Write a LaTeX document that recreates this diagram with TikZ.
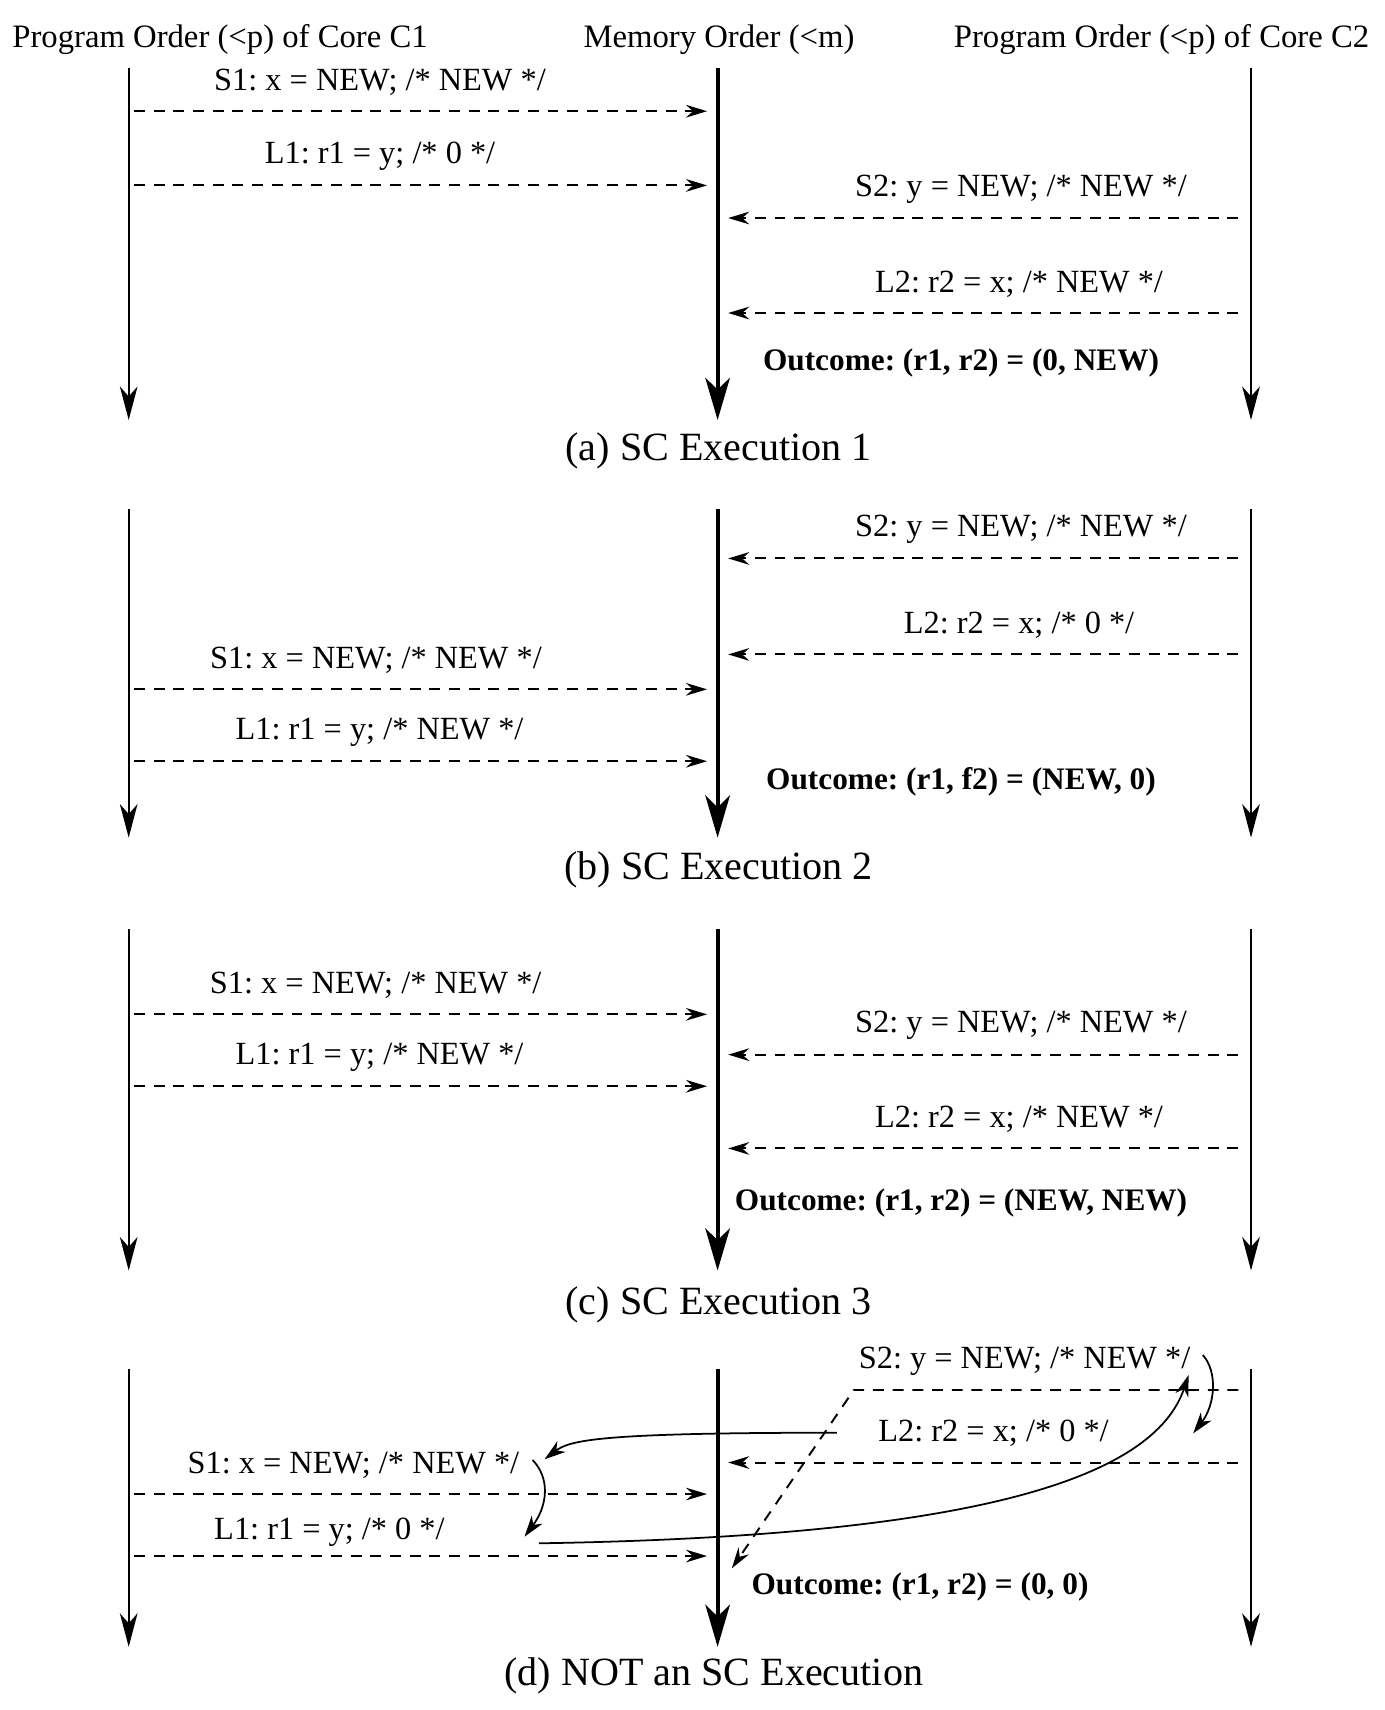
\documentclass[tikz,border=0pt]{standalone}
\usepackage{fontspec}
\setmainfont{Liberation Serif}
\usetikzlibrary{arrows.meta}
\frenchspacing

\tikzset{
  lifeline/.style={line width=0.65pt,-{Stealth[length=9.5pt,width=5pt,inset=2.8pt]}},
  memline/.style={line width=1.2pt,-{Stealth[length=12pt,width=7pt,inset=3.4pt]}},
  msg/.style={line width=0.55pt,dash pattern=on 3.1pt off 2.5pt,-{Stealth[length=6pt,width=3.6pt,inset=2pt]}},
  c1msg/.style={msg,shorten <=1.5pt,shorten >=3pt},
  c2msg/.style={msg,shorten <=3.6pt,shorten >=3pt},
  swap/.style={line width=0.5pt,-{Stealth[length=6pt,width=3.8pt,inset=1.8pt]}},
  op/.style={inner sep=0pt,yshift=-1pt,font=\fontsize{9.2}{11}\selectfont},
  outcome/.style={inner sep=0pt,yshift=-0.8pt,font=\fontsize{8.9}{11}\selectfont\bfseries},
  caption/.style={inner sep=0pt,yshift=-1.2pt,font=\fontsize{11.4}{14}\selectfont},
  header/.style={inner sep=0pt,yshift=-1pt,font=\fontsize{9.3}{11}\selectfont}
}

\begin{document}
\begin{tikzpicture}[x=0.01cm,y=-0.01cm]
\useasboundingbox (0,0) rectangle (1384,1710);

\coordinate (c1) at (128.7,0);
\coordinate (mem) at (717.6,0);
\coordinate (c2) at (1251,0);

\node[header] (h1) at (220,36) {Program Order (<p) of Core C1};
\node[header] (hm) at (719,36) {Memory Order (<m)};
\node[header] (h2) at (1161.5,36) {Program Order (<p) of Core C2};

% the three time lines of each execution
\foreach \p/\t/\b in {a/67.6/420,b/509.3/837.6,c/929.2/1270.5,d/1368.7/1646.8}{
  \coordinate (top\p) at (0,\t);
  \coordinate (bot\p) at (0,\b);
  \draw[lifeline] (c1 |- top\p) -- (c1 |- bot\p);
  \draw[memline] (mem |- top\p) -- (mem |- bot\p);
  \draw[lifeline] (c2 |- top\p) -- (c2 |- bot\p);
}

% (a)
\node[op] (s1a) at (380,78.7) {S1: x = NEW; /* NEW */};
\draw[c1msg] ([yshift=-2.9mm]c1 |- s1a) -- ([yshift=-2.9mm]mem |- s1a);
\node[op] (l1a) at (380,152.9) {L1: r1 = y; /* 0 */};
\draw[c1msg] ([yshift=-2.9mm]c1 |- l1a) -- ([yshift=-2.9mm]mem |- l1a);
\node[op] (s2a) at (1021,185.5) {S2: y = NEW; /* NEW */};
\draw[c2msg] ([yshift=-2.9mm]c2 |- s2a) -- ([yshift=-2.9mm]mem |- s2a);
\node[op] (l2a) at (1019,280.5) {L2: r2 = x; /* NEW */};
\draw[c2msg] ([yshift=-2.9mm]c2 |- l2a) -- ([yshift=-2.9mm]mem |- l2a);
\node[outcome] (outa) at (961,360) {Outcome: (r1, r2) = (0, NEW)};
\node[caption] (capa) at (718.6,447) {(a) SC Execution 1};

% (b)
\node[op] (s2b) at (1021,525.9) {S2: y = NEW; /* NEW */};
\draw[c2msg] ([yshift=-2.9mm]c2 |- s2b) -- ([yshift=-2.9mm]mem |- s2b);
\node[op] (l2b) at (1019,621.9) {L2: r2 = x; /* 0 */};
\draw[c2msg] ([yshift=-2.9mm]c2 |- l2b) -- ([yshift=-2.9mm]mem |- l2b);
\node[op] (s1b) at (376,656.8) {S1: x = NEW; /* NEW */};
\draw[c1msg] ([yshift=-2.9mm]c1 |- s1b) -- ([yshift=-2.9mm]mem |- s1b);
\node[op] (l1b) at (379.5,728.7) {L1: r1 = y; /* NEW */};
\draw[c1msg] ([yshift=-2.9mm]c1 |- l1b) -- ([yshift=-2.9mm]mem |- l1b);
\node[outcome] (outb) at (961,778.7) {Outcome: (r1, f2) = (NEW, 0)};
\node[caption] (capb) at (718.6,866) {(b) SC Execution 2};

% (c)
\node[op] (s1c) at (375.7,981.8) {S1: x = NEW; /* NEW */};
\draw[c1msg] ([yshift=-2.9mm]c1 |- s1c) -- ([yshift=-2.9mm]mem |- s1c);
\node[op] (s2c) at (1021,1022.1) {S2: y = NEW; /* NEW */};
\draw[c2msg] ([yshift=-2.9mm]c2 |- s2c) -- ([yshift=-2.9mm]mem |- s2c);
\node[op] (l1c) at (379.5,1053.7) {L1: r1 = y; /* NEW */};
\draw[c1msg] ([yshift=-2.9mm]c1 |- l1c) -- ([yshift=-2.9mm]mem |- l1c);
\node[op] (l2c) at (1019,1115.9) {L2: r2 = x; /* NEW */};
\draw[c2msg] ([yshift=-2.9mm]c2 |- l2c) -- ([yshift=-2.9mm]mem |- l2c);
\node[outcome] (outc) at (961,1199.7) {Outcome: (r1, r2) = (NEW, NEW)};
\node[caption] (capc) at (718.6,1301) {(c) SC Execution 3};

% (d)
\node[op] (s2d) at (1024.6,1357.5) {S2: y = NEW; /* NEW */};
\coordinate (bend) at (853.8,1390);
\coordinate (late) at (731.8,1568.3);
\draw[msg,shorten <=3.6pt] (c2 |- bend) -- (bend) -- (late);
\node[op] (l2d) at (993.5,1430) {L2: r2 = x; /* 0 */};
\draw[c2msg] ([yshift=-2.9mm]c2 |- l2d) -- ([yshift=-2.9mm]mem |- l2d);
\node[op] (s1d) at (353.4,1461.5) {S1: x = NEW; /* NEW */};
\draw[c1msg] ([yshift=-2.9mm]c1 |- s1d) -- ([yshift=-2.9mm]mem |- s1d);
\node[op] (l1d) at (329.4,1529) {L1: r1 = y; /* 0 */};
\draw[c1msg] ([yshift=-2.35mm]c1 |- l1d) -- ([yshift=-2.35mm]mem |- l1d);
\node[outcome] (outd) at (920,1584.6) {Outcome: (r1, r2) = (0, 0)};
\node[caption] (capd) at (713.8,1672) {(d) NOT an SC Execution};

\coordinate (l2from) at (836.8,1432.7);
\coordinate (s1to) at (544.5,1459.3);
\coordinate (s1from) at (532.6,1460);
\coordinate (l1to) at (524.5,1536.7);
\coordinate (l1from) at (538.8,1543.3);
\coordinate (s2to) at (1188.6,1375);
\coordinate (s2from) at (1202.8,1355);
\coordinate (l2to) at (1193.2,1433.3);
\draw[swap] (l2from) .. controls (600,1432.7) and (570,1440) .. (s1to);
\draw[swap] (s1from) .. controls (550,1478) and (548,1505) .. (l1to);
\draw[swap] (l1from) .. controls (930,1537) and (1150,1490) .. (s2to);
\draw[swap] (s2from) .. controls (1218,1372) and (1215,1405) .. (l2to);
\end{tikzpicture}
\end{document}
